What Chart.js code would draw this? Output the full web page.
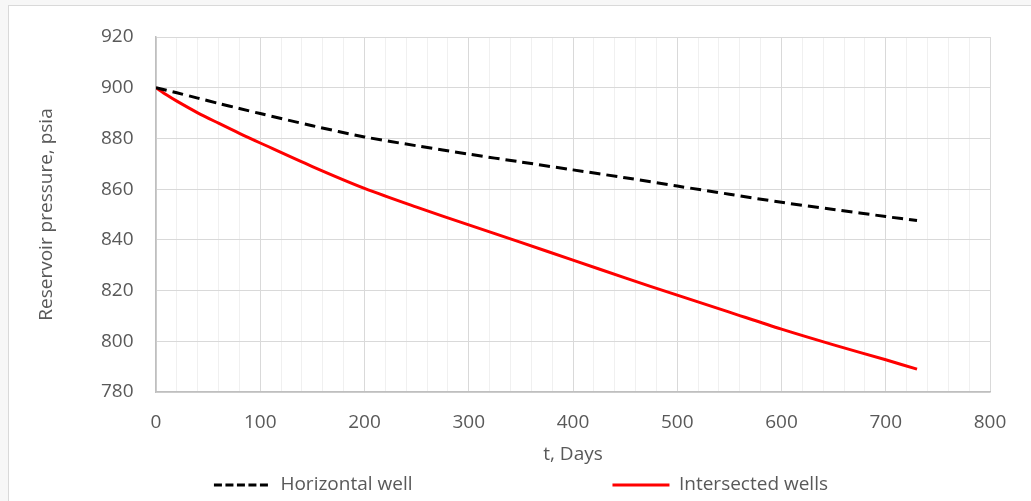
<!DOCTYPE html>
<html>
<head>
<meta charset="utf-8">
<script src="https://cdn.jsdelivr.net/npm/chart.js@4"></script>
<style>
    html, body { margin: 0; padding: 0; }
    body { width: 1031px; height: 501px; overflow: hidden; background: #f7f7f7; position: relative; }
    .frame { position: absolute; left: 8px; top: 5px; width: 1040px; height: 510px; background: #fff; border: 1px solid #d9d9d9; }
    #pressureChart { position: absolute; left: 0; top: 0; }
</style>
</head>
<body>
<div class="frame"></div>
<canvas id="pressureChart" width="1031" height="501"></canvas>
<script>
// values
const days = [0, 10, 20, 40, 60, 80, 100, 150, 200, 250, 300, 350, 400, 450, 500, 550, 600, 650, 700, 730];
const horizontalWell = [900, 899, 898, 895.9, 893.8, 891.8, 889.8, 885, 880.6, 877.1, 873.8, 870.7, 867.6, 864.5, 861.2, 858, 854.8, 852, 849.2, 847.6];
const intersectedWells = [900, 897.2, 894.7, 890.1, 886, 882, 878.2, 868.9, 860.3, 852.9, 845.9, 839, 832, 825, 818.2, 811.5, 804.8, 798.6, 792.7, 789];
const seriesNames = ['Horizontal well', 'Intersected wells'];
const xTicks = [0, 100, 200, 300, 400, 500, 600, 700, 800];
const yTicks = [780, 800, 820, 840, 860, 880, 900, 920];

const textColor = '#595959';
Chart.defaults.font.family = "'Open Sans', sans-serif";
Chart.defaults.font.size = 19;
Chart.defaults.color = textColor;

function toPoints(values) {
    return days.map((d, i) => ({ x: d, y: values[i] }));
}

// trailing spaces give the wide gap between the two legend entries
const legendGap = ['\u2003'.repeat(10), '\u2003'.repeat(8)];

const ctx = document.getElementById('pressureChart').getContext('2d');
const chart = new Chart(ctx, {
    type: 'line',
    data: {
        datasets: [{
            label: seriesNames[0],
            data: toPoints(horizontalWell),
            borderColor: '#000000',
            borderWidth: 3,
            borderDash: [11, 6],
            pointRadius: 0,
            tension: 0.3
        }, {
            label: seriesNames[1],
            data: toPoints(intersectedWells),
            borderColor: '#ff0000',
            borderWidth: 3,
            pointRadius: 0,
            tension: 0.3
        }]
    },
    options: {
        responsive: false,
        animation: false,
        devicePixelRatio: 1,
        layout: { padding: { left: 0, right: 41, top: 37, bottom: 0 } },
        plugins: {
            tooltip: { enabled: false },
            legend: {
                position: 'bottom',
                align: 'end',
                maxHeight: 35.5,
                labels: {
                    usePointStyle: true,
                    pointStyle: 'line',
                    pointStyleWidth: 57,
                    padding: 10,
                    color: textColor,
                    generateLabels: (c) => {
                        const items = Chart.defaults.plugins.legend.labels.generateLabels(c);
                        items.forEach((item, i) => {
                            item.text = seriesNames[i] + legendGap[i];
                            item.lineWidth = 3;
                            item.pointStyle = 'line';
                            item.lineDash = i === 0 ? [8, 3.5] : [];
                        });
                        return items;
                    }
                }
            }
        },
        scales: {
            x: {
                type: 'linear',
                min: xTicks[0],
                max: xTicks[xTicks.length - 1],
                afterFit: (scale) => { scale.height = 73.5; },
                ticks: {
                    stepSize: 20,
                    autoSkip: false,
                    maxRotation: 0,
                    padding: 19,
                    callback: (v) => xTicks.includes(v) ? v : ''
                },
                grid: {
                    drawTicks: false,
                    lineWidth: 1,
                    color: (c) => xTicks.includes(c.tick.value) ? '#d9d9d9' : '#f0f0f0'
                },
                border: { color: '#bfbfbf', width: 1.5 },
                title: {
                    display: true,
                    text: 't, Days',
                    color: textColor,
                    padding: { top: 0, bottom: 0 }
                }
            },
            y: {
                min: yTicks[0],
                max: yTicks[yTicks.length - 1],
                afterFit: (scale) => { scale.width = 156; },
                ticks: { stepSize: 20, padding: 22.5 },
                grid: { drawTicks: false, color: '#d9d9d9', lineWidth: 1 },
                border: { color: '#bfbfbf', width: 1.5 },
                title: {
                    display: true,
                    text: 'Reservoir pressure, psia',
                    color: textColor,
                    padding: { top: 35.6, bottom: 0 }
                }
            }
        }
    }
});
</script>
</body>
</html>
